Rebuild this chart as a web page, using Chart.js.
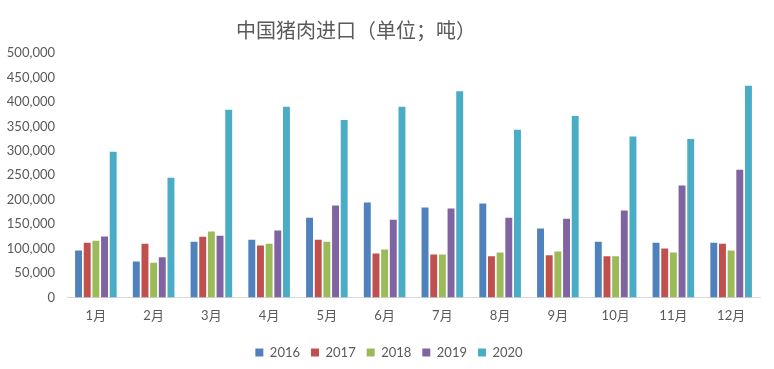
<!DOCTYPE html>
<html>
<head>
<meta charset="utf-8">
<script src="https://cdn.jsdelivr.net/npm/chart.js@4/dist/chart.umd.min.js"></script>
<style>
  html, body { margin: 0; padding: 0; background: #fff; }
  #wrap { width: 774px; height: 369px; position: relative; }
</style>
</head>
<body>
<div id="wrap"><canvas id="c"></canvas></div>
<script>
// 月份
const months = ['1月', '2月', '3月', '4月', '5月', '6月', '7月', '8月', '9月', '10月', '11月', '12月'];
const years = ['2016', '2017', '2018', '2019', '2020'];

// 进口量（吨）
const v2016 = [96000, 73500, 114000, 118000, 163000, 194000, 184000, 192000, 141000, 114000, 112000, 112000];
const v2017 = [112000, 110000, 124000, 106000, 118000, 90000, 88000, 84000, 86000, 84000, 100000, 110000];
const v2018 = [116000, 71000, 135000, 110000, 114000, 98000, 88000, 92000, 94000, 84000, 92000, 96000];
const v2019 = [124500, 82000, 126000, 137000, 188000, 159000, 182000, 163000, 161000, 178000, 229000, 261000];
const v2020 = [298000, 245000, 384000, 390000, 363000, 390000, 422000, 343000, 371000, 329000, 324000, 433000];

const colors = ['#4F81BD', '#C0504D', '#9BBB59', '#8064A2', '#4BACC6'];
const titleText = '中国猪肉进口（单位；吨）';
const fontFamily = 'Lato, "Noto Sans CJK SC", sans-serif';

const seriesValues = [v2016, v2017, v2018, v2019, v2020];

// 标题（偏左，和原图一致）
const titlePlugin = {
    id: 'offsetTitle',
    afterLayout(chart) {
        // 图例整体往右挪一点
        if (chart.legend) {
            chart.legend.left += 9;
            chart.legend.right += 9;
        }
    },
    afterDraw(chart) {
        const ctx = chart.ctx;
        ctx.save();
        ctx.font = '20px "Noto Sans CJK SC", sans-serif';
        ctx.fillStyle = '#595959';
        ctx.textAlign = 'center';
        ctx.textBaseline = 'middle';
        ctx.fillText(titleText, 356, 30);
        ctx.restore();
    }
};

new Chart(document.getElementById('c'), {
    type: 'bar',
    data: {
        labels: months,
        datasets: years.map((y, i) => ({
            label: y,
            data: seriesValues[i],
            backgroundColor: colors[i],
            borderWidth: 0,
            categoryPercentage: 0.75,
            barPercentage: 0.8,
        })),
    },
    options: {
        responsive: true,
        maintainAspectRatio: false,
        animation: false,
        layout: {
            padding: { top: 53, right: 14, left: 0, bottom: 0 },
        },
        plugins: {
            legend: {
                position: 'bottom',
                labels: {
                    color: '#595959',
                    font: { family: fontFamily, size: 13 },
                    boxWidth: 8,
                    boxHeight: 8,
                    padding: 11,
                },
            },
            tooltip: { enabled: false },
        },
        scales: {
            x: {
                grid: { display: false, drawTicks: false },
                border: { color: '#D9D9D9', width: 1 },
                ticks: {
                    color: '#595959',
                    font: { family: fontFamily, size: 13 },
                    padding: 11,
                    maxRotation: 0,
                },
            },
            y: {
                min: 0,
                max: 500000,
                grid: { display: false, drawTicks: false },
                border: { display: false },
                ticks: {
                    stepSize: 50000,
                    color: '#595959',
                    font: { family: fontFamily, size: 13 },
                    padding: 12,
                    callback: (v) => v.toLocaleString('en-US'),
                },
                afterFit: (s) => { s.width = 67; },
            },
        },
    },
    plugins: [titlePlugin],
});
</script>
</body>
</html>
